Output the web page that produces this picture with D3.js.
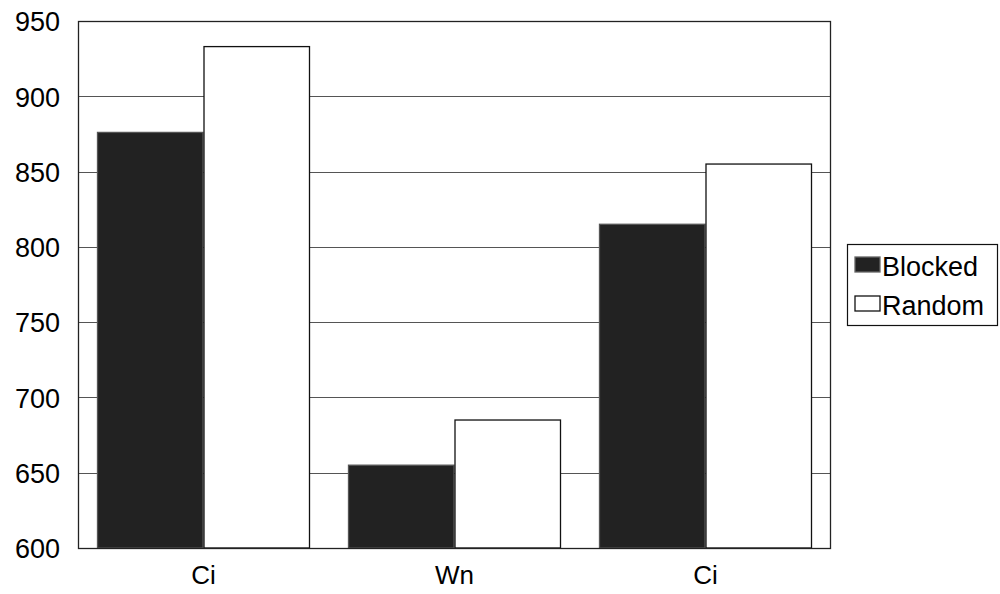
<!DOCTYPE html>
<html><head><meta charset="utf-8">
<script src="https://cdn.jsdelivr.net/npm/d3@7"></script>
<style>body{margin:0;background:#fff}svg{display:block}text{font-family:"Liberation Sans",Arial,sans-serif;fill:#000}</style>
</head><body><svg id="c" width="1000" height="594"></svg>
<script>
const categories = ["Ci", "Wn", "Ci"];
const seriesNames = ["Blocked", "Random"];
const blocked = [876, 655, 815];
const random = [933, 685, 855];
const yTicks = [600, 650, 700, 750, 800, 850, 900, 950];
const colors = ["#222222", "#ffffff"];

const svg = d3.select("#c");
const L = 78, R = 831, T = 21, B = 548;
const groups = categories.map((c, i) => i);
const x0 = d3.scaleBand().domain(groups).range([L, R]).paddingInner(0).paddingOuter(0);
const x1 = d3.scaleBand().domain([0, 1]).range([19, x0.bandwidth() - 19]);
const y = d3.scaleLinear().domain([600, 950]).range([B, T]);

// gridlines
svg.append("g").selectAll("line").data(yTicks.slice(1, -1)).join("line")
  .attr("x1", L).attr("x2", R).attr("y1", d => Math.round(y(d)) + 0.5).attr("y2", d => Math.round(y(d)) + 0.5)
  .attr("stroke", "#555").attr("stroke-width", 1);

// bars
const data = groups.map(i => [blocked[i], random[i]]);
const g = svg.append("g").selectAll("g").data(data).join("g")
  .attr("transform", (d, i) => `translate(${x0(i)},0)`);
g.selectAll("rect").data(d => d.map((v, s) => ({v, s}))).join("rect")
  .attr("x", d => x1(d.s) + 0.5)
  .attr("y", d => y(d.v))
  .attr("width", x1.bandwidth() - 1)
  .attr("height", d => B - y(d.v))
  .attr("fill", d => colors[d.s])
  .attr("stroke", d => d.s === 0 ? "#555" : "#111")
  .attr("stroke-width", 1.3);

// plot border
svg.append("rect").attr("x", L + 0.5).attr("y", T + 0.5).attr("width", R - L - 1).attr("height", B - T)
  .attr("fill", "none").attr("stroke", "#222").attr("stroke-width", 1.3);

// y axis
const ya = svg.append("g").attr("transform", `translate(${L},0)`)
  .call(d3.axisLeft(y).tickValues(yTicks).tickSize(0).tickPadding(18));
ya.select(".domain").remove();
ya.selectAll("text").style("font-size", "27px").attr("dy", "0.36em")
  .style("font-family", "'Liberation Sans', Arial, sans-serif").attr("fill", "#000");

// x axis
const xa = svg.append("g").attr("transform", `translate(0,${B})`)
  .call(d3.axisBottom(x0).tickFormat(i => categories[i]).tickSize(0).tickPadding(18));
xa.select(".domain").remove();
xa.selectAll("text").style("font-size", "26px").attr("dy", "0.71em")
  .style("font-family", "'Liberation Sans', Arial, sans-serif").attr("fill", "#000");

// legend
const lg = svg.append("g");
lg.append("rect").attr("x", 847.5).attr("y", 244.5).attr("width", 150).attr("height", 81)
  .attr("fill", "#fff").attr("stroke", "#111").attr("stroke-width", 1.2);
seriesNames.forEach((n, i) => {
  const yy = 257 + i * 39;
  lg.append("rect").attr("x", 855).attr("y", yy).attr("width", 25).attr("height", 15)
    .attr("fill", colors[i]).attr("stroke", i === 0 ? "#666" : "#111").attr("stroke-width", 1.3);
  lg.append("text").attr("x", 882).attr("y", yy + 18.5).style("font-size", "27px").text(n);
});
</script></body></html>
